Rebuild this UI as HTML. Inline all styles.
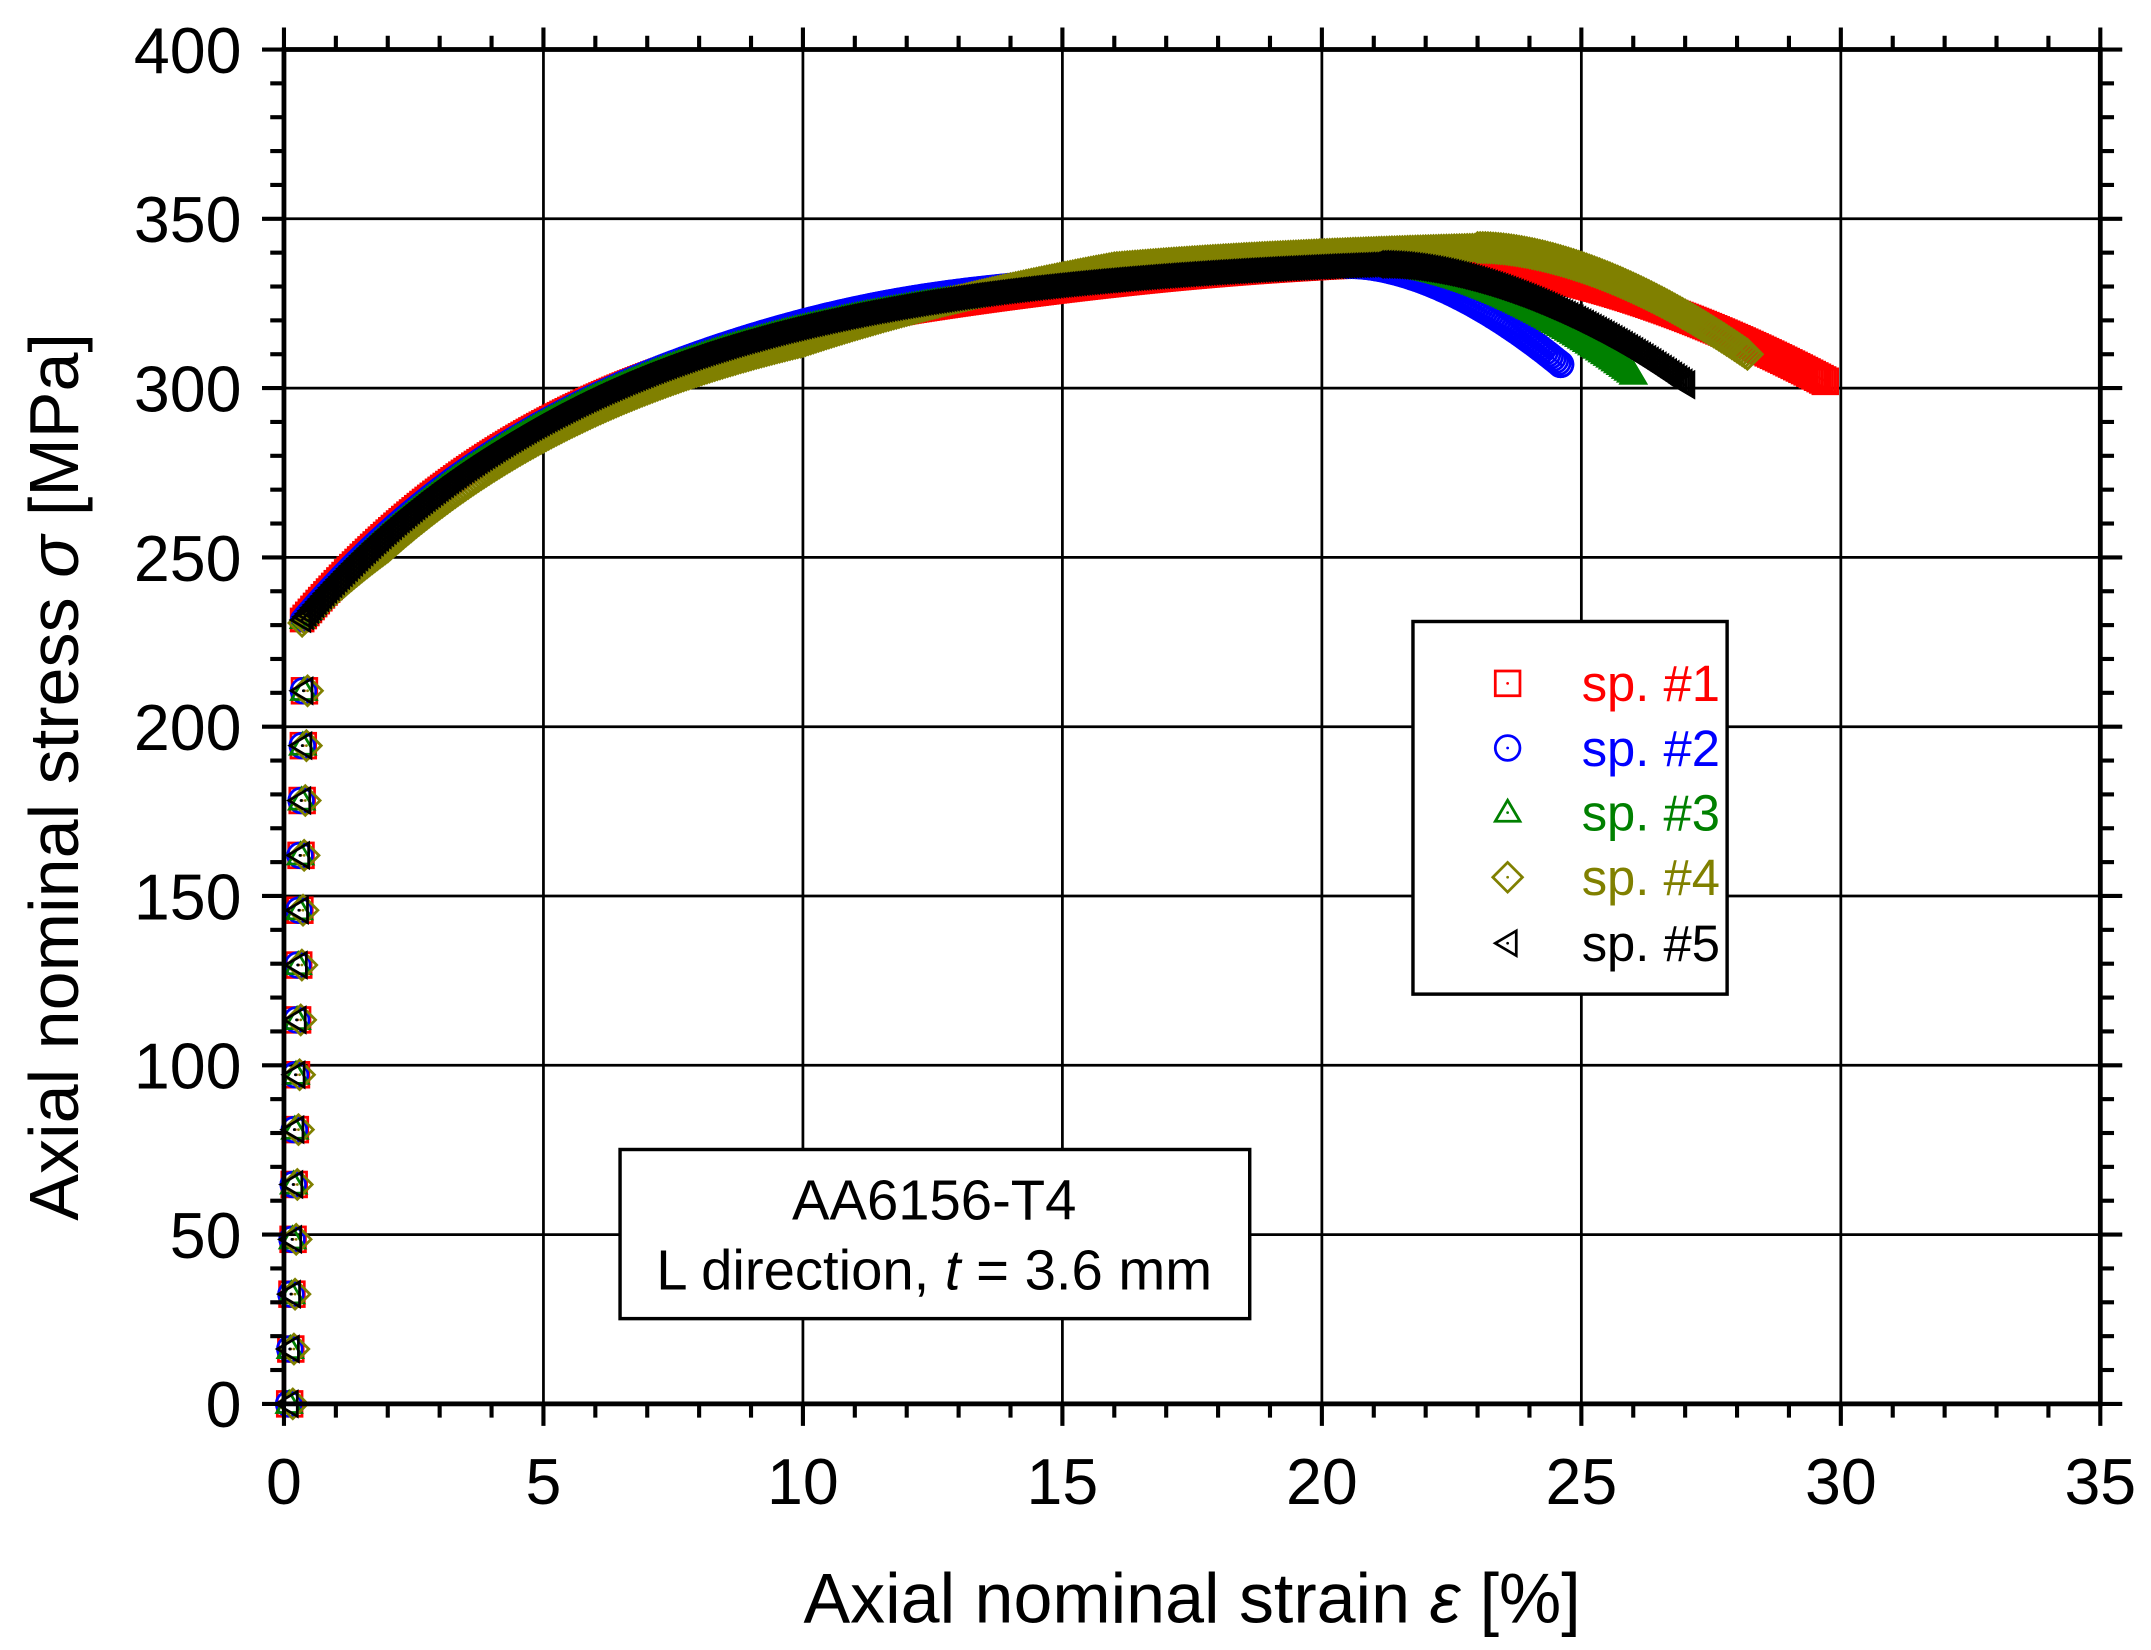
<!DOCTYPE html>
<html><head><meta charset="utf-8"><style>
html,body{margin:0;padding:0;background:#fff;}
svg{display:block;}
text{font-family:"Liberation Sans",Arial,sans-serif;}
</style></head><body>
<svg id="s" width="2151" height="1650" viewBox="0 0 1568 1200" preserveAspectRatio="none" xmlns="http://www.w3.org/2000/svg">
<g id="grid" stroke="#000" stroke-width="2"></g>
<g id="data" fill="none" stroke-width="2"></g>
<g id="axes" stroke="#000" fill="none"></g>
<g id="labels" font-size="47" fill="#000"></g>
<text x="869" y="1180" font-size="51" text-anchor="middle">Axial nominal strain <tspan font-style="italic">ε</tspan> [%]</text>
<text transform="translate(57,565) rotate(-90)" font-size="51" text-anchor="middle">Axial nominal stress <tspan font-style="italic">σ</tspan> [MPa]</text>
<rect x="1030" y="452" width="229" height="271" fill="#fff" stroke="#000" stroke-width="2.5"/>
<g id="leg" fill="none" stroke-width="2"></g>
<g font-size="37">
<text x="1153" y="510" fill="#ff0000">sp. #1</text>
<text x="1153" y="557" fill="#0000ff">sp. #2</text>
<text x="1153" y="604" fill="#008000">sp. #3</text>
<text x="1153" y="651" fill="#808000">sp. #4</text>
<text x="1153" y="699" fill="#000">sp. #5</text>
</g>
<rect x="452" y="836" width="459" height="123" fill="#fff" stroke="#000" stroke-width="2.5"/>
<text x="681" y="887" font-size="41" text-anchor="middle">AA6156-T4</text>
<text x="681" y="938" font-size="41" text-anchor="middle">L direction, <tspan font-style="italic">t</tspan> = 3.6 mm</text>
</svg>
<script>
var NS="http://www.w3.org/2000/svg";
function X(e){return 207+e*37.83;}
function Y(s){return 1021-s*(985/400);}
function el(p,t,a){var e=document.createElementNS(NS,t);for(var k in a)e.setAttribute(k,a[k]);p.appendChild(e);return e;}
var grid=document.getElementById('grid'),axes=document.getElementById('axes'),lab=document.getElementById('labels');
for(var i=1;i<7;i++)el(grid,'line',{x1:X(i*5),x2:X(i*5),y1:Y(0),y2:Y(400)});
for(var i=1;i<8;i++)el(grid,'line',{x1:X(0),x2:X(35),y1:Y(i*50),y2:Y(i*50)});
el(axes,'rect',{x:X(0),y:Y(400),width:X(35)-X(0),height:Y(0)-Y(400),'stroke-width':3.5});
for(var e=0;e<=35;e++){var mj=e%5==0,L=mj?16:10;
 el(axes,'line',{x1:X(e),x2:X(e),y1:Y(0),y2:Y(0)+L,'stroke-width':3});
 el(axes,'line',{x1:X(e),x2:X(e),y1:Y(400),y2:Y(400)-L,'stroke-width':3});
 if(mj){var tt=el(lab,'text',{x:X(e),y:1094,'text-anchor':'middle'});tt.textContent=String(e);}}
for(var s=0;s<=400;s+=10){var mj=s%50==0,L=mj?16:10;
 el(axes,'line',{y1:Y(s),y2:Y(s),x1:X(0),x2:X(0)-L,'stroke-width':3});
 el(axes,'line',{y1:Y(s),y2:Y(s),x1:X(35),x2:X(35)+L,'stroke-width':3});
 if(mj){var tt=el(lab,'text',{x:176,y:Y(s)+17,'text-anchor':'end'});tt.textContent=String(s);}}
var data=document.getElementById('data');
function mk(g,type,x,y,c,sz){sz=sz||8;
 if(type=='sq')el(g,'rect',{x:x-sz,y:y-sz,width:2*sz,height:2*sz,stroke:c,fill:'none'});
 else if(type=='ci')el(g,'circle',{cx:x,cy:y,r:sz,stroke:c,fill:'none'});
 else if(type=='tr')el(g,'path',{d:'M'+(x-sz)+' '+(y+sz*0.7)+'L'+(x+sz)+' '+(y+sz*0.7)+'L'+x+' '+(y-sz)+'Z',stroke:c,fill:'none'});
 else if(type=='di')el(g,'path',{d:'M'+(x-sz*1.2)+' '+y+'L'+x+' '+(y-sz*1.2)+'L'+(x+sz*1.2)+' '+y+'L'+x+' '+(y+sz*1.2)+'Z',stroke:c,fill:'none'});
 else el(g,'path',{d:'M'+(x+sz*0.7)+' '+(y-sz)+'L'+(x-sz)+' '+y+'L'+(x+sz*0.7)+' '+(y+sz)+'Z',stroke:c,fill:'none'});
 el(g,'circle',{cx:x,cy:y,r:1,fill:c,stroke:'none'});}
function base(e){return 225+115*(1-Math.exp(-e/6));}
var S=[
 {t:'sq',c:'#ff0000',es:22,ee:29.7,se:302,off:function(e){return -2*Math.exp(-Math.pow((e-13)/5,2));},dx:0.06},
 {t:'ci',c:'#0000ff',es:20.5,ee:24.6,se:307,off:function(e){return 2*Math.exp(-Math.pow((e-12)/4,2));},dx:0.04},
 {t:'tr',c:'#008000',es:21,ee:26,se:304,off:function(e){return 0;},dx:0.05},
 {t:'di',c:'#808000',es:23,ee:28.2,se:310,off:function(e){return e<10?-5*Math.min(1,e/2):(e<16?-5+9*(e-10)/6:4);},dx:0.12},
 {t:'lt',c:'#000000',es:21,ee:27,se:301,off:function(e){return 0;},dx:0.04}];
for(var j=0;j<S.length;j++){var sp=S[j];
 var g=el(data,'g',{});
 for(var v=0;v<=222;v+=16.2){var ee=0.05+v/222*0.3+sp.dx;mk(g,sp.t,X(ee),Y(v),sp.c,9);}
 var bE=base(sp.ee)+sp.off(sp.ee),A=bE-sp.se;
 for(var e2=0.35;e2<=sp.ee+1e-6;e2+=0.05){
  var val=base(e2)+sp.off(e2);
  if(e2>sp.es){var f=(e2-sp.es)/(sp.ee-sp.es);val-=A*Math.pow(f,1.7);}
  mk(g,sp.t,X(e2),Y(val),sp.c,e2>sp.es?9:8);
 }
 mk(g,sp.t,X(sp.ee),Y(sp.se),sp.c,9);
}
var leg=document.getElementById('leg');
var ly=[497,544,591,638,686];
for(var j=0;j<S.length;j++)mk(leg,S[j].t,1099,ly[j],S[j].c,9);
</script>
</body></html>
